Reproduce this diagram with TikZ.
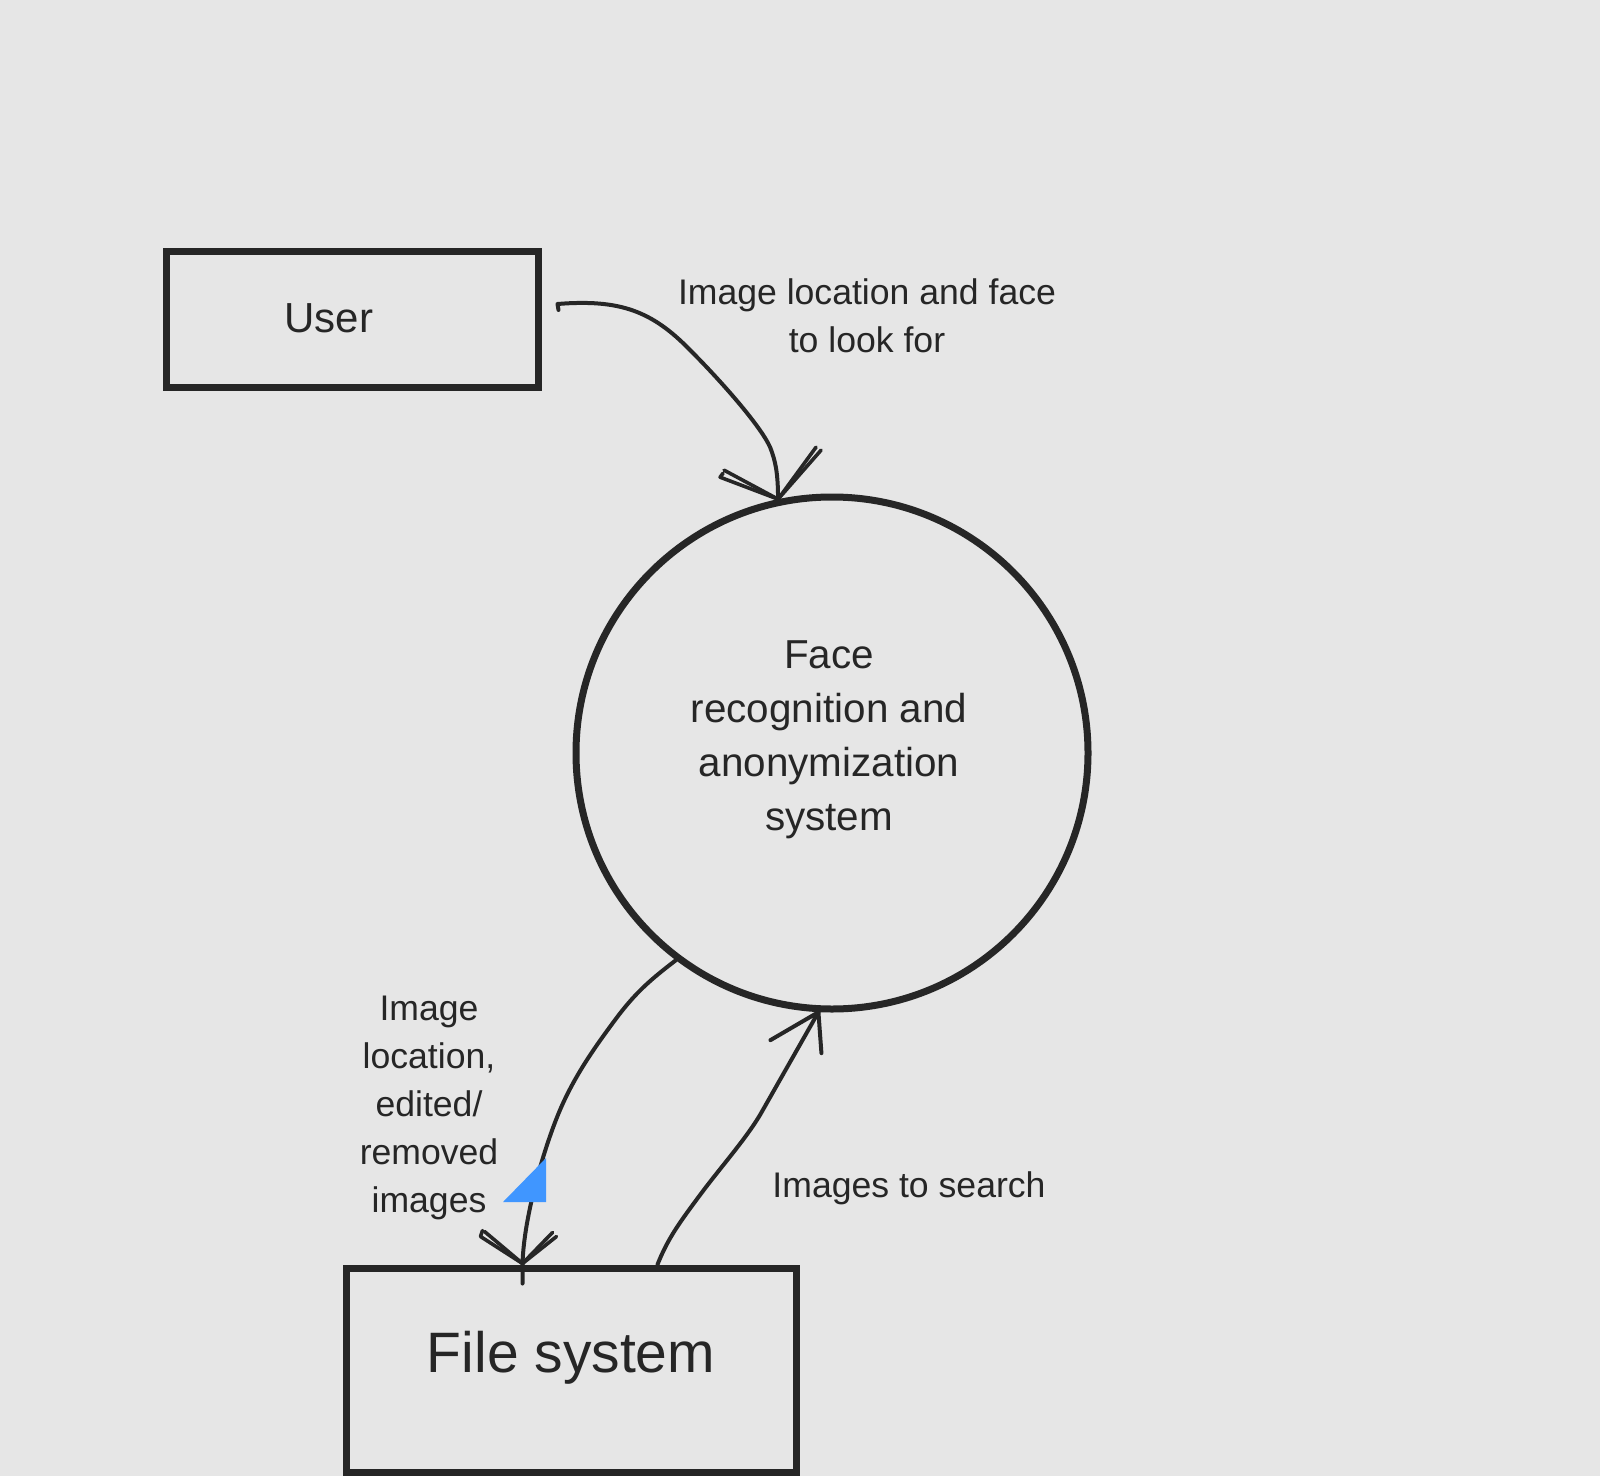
\documentclass[tikz,border=0pt]{standalone}
\usepackage{fontspec}
\setmainfont{Liberation Sans}
\usetikzlibrary{calc}
\definecolor{bg}{RGB}{230,230,230}
\definecolor{ink}{RGB}{38,38,38}
\definecolor{selblue}{RGB}{64,150,255}
\begin{document}
\begin{tikzpicture}[x=0.5pt,y=-0.5pt,
  boxnode/.style={draw=ink, line width=3.5pt, rectangle, inner sep=0pt},
  procnode/.style={draw=ink, line width=3.5pt, circle, inner sep=0pt, minimum size=256pt},
  flow/.style={draw=ink, line width=2pt, line cap=round, line join=round},
  barb/.style={draw=ink, line width=1.8pt, line cap=round, line join=round},
  txt/.style={text=ink, anchor=base, inner sep=0pt, align=center},
  lbl/.style={txt, font=\fontsize{17.8}{24}\selectfont},
]
\fill[bg] (0,0) rectangle (1600,1476);
\useasboundingbox (0,0) rectangle (1600,1476);

% nodes
\node[boxnode, minimum width=186pt, minimum height=68pt] (user) at (352,320) {};
\node[txt, font=\fontsize{21}{25}\selectfont] (usertext) at (329,333) {User};

\node[procnode] (face) at (832,753) {};
\node[txt, font=\fontsize{20.2}{27}\selectfont] (facetext) at (829,830)
  {Face\\recognition and\\anonymization\\system};

\node[boxnode, minimum width=225pt, minimum height=102pt] (fs) at (571,1370) {};
\node[txt, font=\fontsize{28.5}{34}\selectfont] (fstext) at (571,1372) {File system};

% labels (base anchor = baseline of the last line)
\node[lbl] (l1) at (867,353) {Image location and face\\to look for};
\node[lbl] (l2) at (429,1212) {Image\\location,\\edited/\\removed\\images};
\node[lbl] (l3) at (909,1197) {Images to search};

% connector 1: User -> Face
\coordinate (u1) at ($(user.east)+(16,-16)$);
\coordinate (f1) at (face.102);
\draw[flow] ($(u1)+(1,6)$) -- (u1) .. controls (620,299) and (652,311) .. (690,350)
  .. controls (720,380) and (760,425) .. (770,447)
  .. controls (776,462) and (778,475) .. (f1);
\draw[barb] (f1) -- ++(-54,-29);
\draw[barb] (f1) -- ++(-58,-22) -- ++(3,-4);
\draw[barb] (f1) -- ++(38,-52);
\draw[barb] (f1) -- ++(43,-49);

% connector 2: Face -> File system
\coordinate (s2) at (face.233);
\coordinate (t2) at ($(fs.north west)+(180,-1)$);
\draw[flow] (s2) .. controls (650,980) and (635,993) .. (615,1020)
  .. controls (595,1047) and (575,1075) .. (560,1110)
  .. controls (545,1145) and (524,1215) .. (t2) -- ++(0,20);
\draw[barb] (t2) -- ++(-38,-32);
\draw[barb] (t2) -- ++(-42,-27) -- ++(2,-6);
\draw[barb] (t2) -- ++(34,-27);
\draw[barb] (t2) -- ++(30,-31);

% connector 3: File system -> Face
\coordinate (s3) at ($(fs.north west)+(315,0)$);
\coordinate (t3) at (face.267);
\draw[flow] (s3) .. controls (668,1238) and (680,1222) .. (700,1195)
  .. controls (720,1168) and (745,1140) .. (760,1115) -- (t3);
\draw[flow] (t3) -- ++(-48,28);
\draw[flow] (t3) -- ++(3,41);

% selection marker
\fill[selblue] (546,1158) -- (546,1202) -- (503,1202) -- cycle;
\end{tikzpicture}
\end{document}
